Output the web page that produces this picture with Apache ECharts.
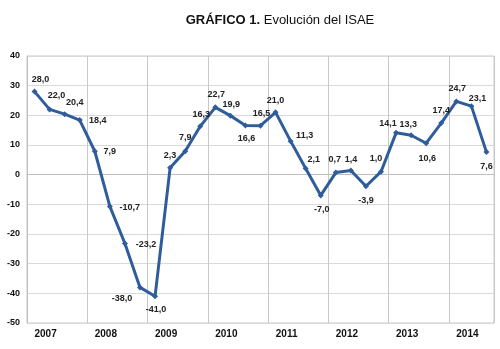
<!DOCTYPE html>
<html>
<head>
<meta charset="utf-8">
<script src="https://cdn.jsdelivr.net/npm/echarts@6/dist/echarts.min.js"></script>
<style>html,body{margin:0;padding:0;background:#fff}#c{width:500px;height:349px}</style>
</head>
<body>
<div id="c"></div>
<script>
var years = ['2007','2008','2009','2010','2011','2012','2013','2014'];
var quarters = ['I','II','III','IV'];
var isae = [28.0,22.0,20.4,18.4, 7.9,-10.7,-23.2,-38.0, -41.0,2.3,7.9,16.3, 22.7,19.9,16.6,16.5,
            21.0,11.3,2.1,-7.0, 0.7,1.4,-3.9,1.0, 14.1,13.3,10.6,17.4, 24.7,23.1,7.6];
var yTicks = {min: -50, max: 40, step: 10};

var categories = isae.map(function(v, i){ return years[Math.floor(i/4)] + '-' + quarters[i%4]; });

// label placement relative to each point (style only)
var labelOffsets = [
  [6,-12],[7,-14],[10,-12],[18,0], [15,0],[20,1],[21,1],[-18,11],
  [1,13],[0,-12],[0,-14],[1,-12], [1,-13],[1,-11],[1,13],[1,-12],
  [0,-12],[14,-6],[8,-9],[1,14], [-1,-13],[0,-11],[0,14],[-5,-13],
  [-8,-9],[-3,-11],[1,15],[0,-13], [1,-13],[6,-8],[0,14]
];

var font = 'Liberation Sans, Arial, sans-serif';
var data = isae.map(function(v, i){
  return {
    value: v,
    label: {position: 'inside', offset: labelOffsets[i]}
  };
});

var chart = echarts.init(document.getElementById('c'), null, {renderer: 'canvas'});
chart.setOption({
  animation: false,
  backgroundColor: '#fff',
  title: {
    text: '{b|GRÁFICO 1.}{n| Evolución del ISAE}',
    left: 275, top: 9, textAlign: 'center',
    textStyle: {
      fontWeight: 'normal',
      rich: {
        b: {fontFamily: font, fontSize: 13, fontWeight: 'bold', color: '#111'},
        n: {fontFamily: font, fontSize: 13, fontWeight: 'normal', color: '#111'}
      }
    }
  },
  grid: {left: 27, right: 6, top: 56, bottom: 26, show: true, borderColor: '#c8c8c8', borderWidth: 1, containLabel: false},
  xAxis: {
    type: 'category',
    data: categories,
    boundaryGap: true,
    axisLine: {lineStyle: {color: '#bfbfbf', width: 1}},
    axisTick: {show: false},
    splitLine: {show: true, interval: function(idx){ return idx % 4 === 0; }, lineStyle: {color: '#c8c8c8', width: 1}},
    axisLabel: {
      interval: function(idx){ return idx % 4 === 1; },
      formatter: function(v){ return v.split('-')[0]; },
      fontFamily: font, fontSize: 10, fontWeight: 'bold', color: '#111',
      margin: 6, padding: [0, 8, 0, 0]
    }
  },
  yAxis: {
    type: 'value',
    min: yTicks.min, max: yTicks.max, interval: yTicks.step,
    axisLine: {show: true, lineStyle: {color: '#bfbfbf', width: 1}},
    axisTick: {show: false},
    splitLine: {lineStyle: {color: '#d9d9d9', width: 1}},
    axisLabel: {fontFamily: font, fontSize: 9, fontWeight: 'bold', color: '#111', margin: 7}
  },
  series: [{
    type: 'line',
    data: data,
    symbol: 'diamond',
    symbolSize: 6,
    lineStyle: {color: '#2F5D9B', width: 3},
    itemStyle: {color: '#2F5D9B'},
    label: {
      show: true,
      fontFamily: font, fontSize: 9, fontWeight: 'bold', color: '#222',
      formatter: function(p){ return p.value.toFixed(1).replace('.', ','); }
    },
    z: 3
  }]
});
</script>
</body>
</html>
